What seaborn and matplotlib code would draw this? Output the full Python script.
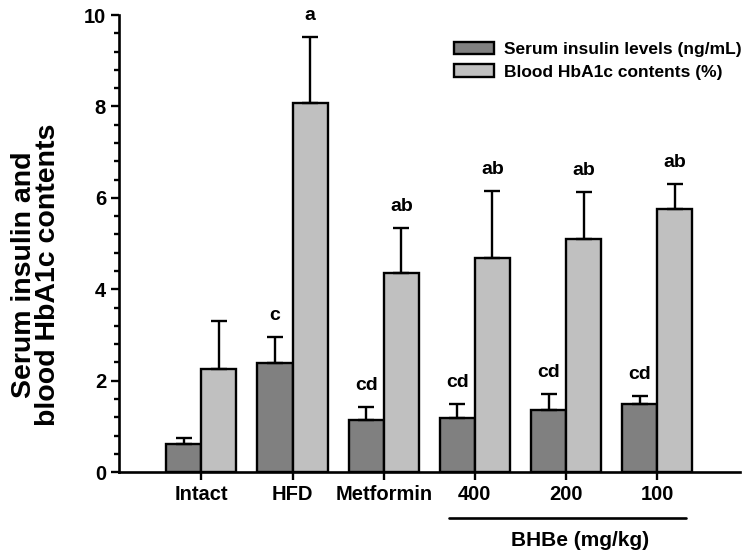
import matplotlib
matplotlib.use("Agg")
import matplotlib.pyplot as plt
from matplotlib.ticker import MultipleLocator
import pandas as pd
import seaborn as sns

# Values
groups = ["Intact", "HFD", "Metformin", "400", "200", "100"]
insulin = [0.61, 2.39, 1.14, 1.18, 1.36, 1.49]
insulin_err = [0.13, 0.56, 0.28, 0.31, 0.35, 0.17]
hba1c = [2.25, 8.07, 4.35, 4.68, 5.10, 5.75]
hba1c_err = [1.05, 1.45, 0.99, 1.47, 1.03, 0.55]
insulin_marks = ["", "c", "cd", "cd", "cd", "cd"]
hba1c_marks = ["", "a", "ab", "ab", "ab", "ab"]
series = ["Serum insulin levels (ng/mL)", "Blood HbA1c contents (%)"]

df = pd.DataFrame({
    "group": groups * 2,
    "value": insulin + hba1c,
    "series": [series[0]] * len(groups) + [series[1]] * len(groups),
})

sns.set_theme(style="ticks")
plt.rcParams["font.family"] = ["Liberation Sans", "DejaVu Sans"]
plt.rcParams["font.weight"] = "bold"
for key in ("text.color", "axes.labelcolor", "xtick.color", "ytick.color",
            "axes.edgecolor"):
    plt.rcParams[key] = "black"

fig = plt.figure(figsize=(7.5, 5.58), dpi=100)
ax = fig.add_axes([0.159, 0.154, 0.828, 0.819])

sns.barplot(data=df, x="group", y="value", hue="series", order=groups,
            hue_order=series, palette=["#808080", "#c0c0c0"], width=0.77,
            errorbar=None, edgecolor="black", linewidth=1.7, saturation=1,
            ax=ax)

# one-sided error bars and significance letters
for cont, errs, marks in zip(ax.containers, (insulin_err, hba1c_err),
                             (insulin_marks, hba1c_marks)):
    xs = [b.get_x() + b.get_width() / 2 for b in cont]
    ys = [b.get_height() for b in cont]
    ax.errorbar(xs, ys, yerr=[[0] * len(errs), errs], fmt="none",
                ecolor="black", elinewidth=1.7, capsize=5.5, capthick=1.7,
                zorder=1)
    for x, y, e, m in zip(xs, ys, errs, marks):
        if m:
            ax.text(x, y + e + 0.28, m, ha="center", va="bottom",
                    fontsize=14, fontweight="bold", color="black")

ax.set_ylim(0, 10)
ax.set_xlim(-0.9, 5.91)
ax.yaxis.set_major_locator(MultipleLocator(2))
ax.yaxis.set_minor_locator(MultipleLocator(0.4))
ax.tick_params(axis="both", which="major", length=6, width=1.7,
               labelsize=14.5, color="black", labelcolor="black")
ax.tick_params(axis="y", which="minor", length=3.5, width=1.7, left=True,
               color="black")
for lab in ax.get_xticklabels() + ax.get_yticklabels():
    lab.set_fontweight("bold")
for s in ("left", "bottom"):
    ax.spines[s].set_linewidth(1.9)
    ax.spines[s].set_color("black")
sns.despine(ax=ax)

ax.set_xlabel("")
ax.set_ylabel("")
fig.text(36 / 750, 1 - 275 / 558, "Serum insulin and\nblood HbA1c contents",
         rotation=90, ha="center", va="center", fontsize=20.5,
         fontweight="bold", linespacing=0.92, color="black")

# BHBe group bracket
ax.plot([2.72, 5.31], [-1.0, -1.0], color="black", lw=1.9, clip_on=False)
ax.text(4.15, -1.49, "BHBe (mg/kg)", ha="center", va="center",
        fontsize=15, fontweight="bold", color="black")

leg = ax.legend(loc="upper left", bbox_to_anchor=(0.539, 0.942), frameon=False,
                prop={"weight": "bold", "size": 12.5}, handlelength=2.3,
                handleheight=0.75, handletextpad=0.57, labelspacing=0.42,
                borderaxespad=0, borderpad=0)
for t in leg.get_texts():
    t.set_color("black")

fig.savefig("out.png", dpi=100)
